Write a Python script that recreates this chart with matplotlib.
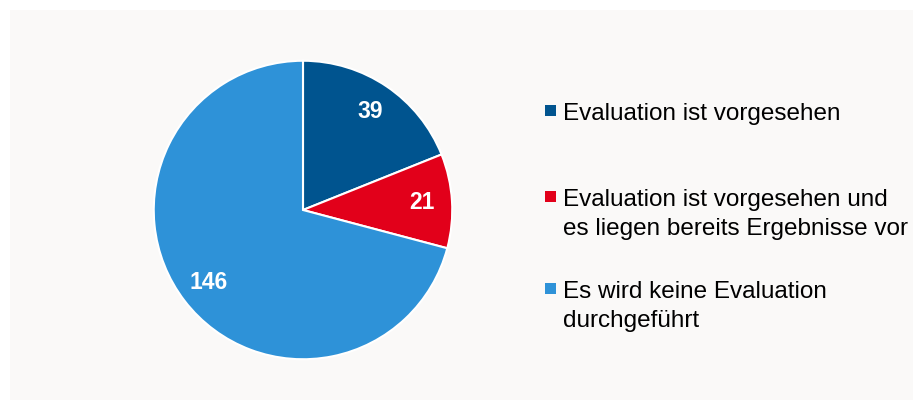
import matplotlib
matplotlib.use("Agg")
import matplotlib.pyplot as plt
from matplotlib.patches import Rectangle

plt.rcParams['font.family'] = ['Liberation Sans', 'DejaVu Sans']

labels = ["Evaluation ist vorgesehen",
          "Evaluation ist vorgesehen und\nes liegen bereits Ergebnisse vor",
          "Es wird keine Evaluation\ndurchgeführt"]
values = [39, 21, 146]
colors = ["#00548f", "#e2001a", "#2e92d8"]

W, H = 917, 401
fig = plt.figure(figsize=(W / 100, H / 100), dpi=100)
fig.patch.set_facecolor("white")

# light panel behind everything
bg = fig.add_axes([10 / W, 1 / H, 903 / W, 390 / H])
bg.set_facecolor("#faf9f8")
bg.set_xticks([])
bg.set_yticks([])
for s in bg.spines.values():
    s.set_visible(False)
bg.set_zorder(0)

# pie centred at (303, 210) px, radius 150 px
ax = fig.add_axes([(303 - 150) / W, (H - 210 - 150) / H, 300 / W, 300 / H])
ax.set_zorder(1)
ax.set_facecolor("none")
wedges, texts, autotexts = ax.pie(
    values, colors=colors, startangle=90, counterclock=False,
    autopct=lambda p: f"{p * sum(values) / 100:.0f}", pctdistance=0.8,
    wedgeprops=dict(edgecolor="white", linewidth=1.5))
for t in autotexts:
    t.set_color("white")
    t.set_fontsize(16.5)
    t.set_fontweight("bold")
ax.set_xlim(-1.005, 1.005)
ax.set_ylim(-1.005, 1.005)
ax.set_aspect("equal")

# legend, drawn by hand so the marker sits on the first line
first_baseline = [120, 206, 298]
line_step = 28.5
for lab, col, yb in zip(labels, colors, first_baseline):
    lg = fig.add_artist(Rectangle((545 / W, (H - yb + 4) / H), 11 / W, 11 / H,
                                  transform=fig.transFigure, facecolor=col,
                                  edgecolor="none"))
    lg.set_zorder(2)
    for i, line in enumerate(lab.split("\n")):
        t = fig.text(563 / W, (H - yb - i * line_step) / H, line,
                     fontsize=17.5, color="black", ha="left", va="baseline")
        t.set_zorder(2)

fig.savefig("out.png", dpi=100, facecolor=fig.get_facecolor())
